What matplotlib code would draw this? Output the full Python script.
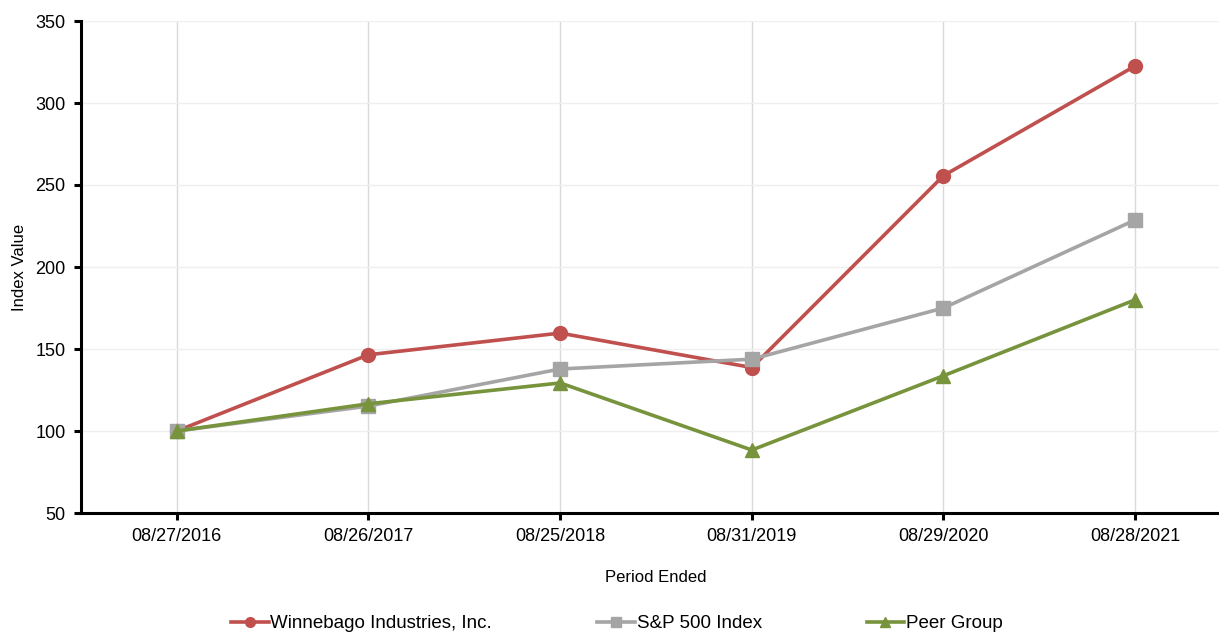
import numpy as np
from matplotlib import pyplot as plt

plt.rcParams['font.family'] = ['Liberation Sans', 'DejaVu Sans']

periods = ["08/27/2016", "08/26/2017", "08/25/2018", "08/31/2019", "08/29/2020", "08/28/2021"]
winnebago = [100, 146.5, 159.7, 138.7, 255.7, 322.6]
sp500 = [100, 115.2, 137.8, 143.8, 175.0, 228.7]
peer = [100, 116.6, 129.3, 88.4, 133.7, 180.0]

fig = plt.figure(figsize=(12.19, 6.32), dpi=100)
ax = fig.add_axes([81 / 1219, 1 - 513 / 632, 1150 / 1219, 492 / 632])

x = np.arange(len(periods))
ax.plot(x, winnebago, color="#c0504d", lw=2.6, marker="o", ms=10, label="Winnebago Industries, Inc.")
ax.plot(x, sp500, color="#a5a5a5", lw=2.6, marker="s", ms=10, label="S&P 500 Index")
ax.plot(x, peer, color="#77933c", lw=2.6, marker="^", ms=10, label="Peer Group")

ax.set_xlim(-0.5, 5.5)
ax.set_ylim(50, 350)
ax.set_xticks(x)
ax.set_xticklabels(periods)
ax.set_yticks(np.arange(50, 351, 50))

for xv in x:
    ax.axvline(xv, color="#d9d9d9", lw=1, zorder=0)
for yv in np.arange(100, 351, 50):
    ax.axhline(yv, color="#efefef", lw=1, zorder=0)

for s in ["top", "right"]:
    ax.spines[s].set_visible(False)
for s in ["left", "bottom"]:
    ax.spines[s].set_linewidth(2.2)
ax.tick_params(axis="both", width=2.2, length=5, labelsize=13, pad=6)

ax.set_ylabel("Index Value", fontsize=12, labelpad=6)
ax.set_xlabel("Period Ended", fontsize=12, labelpad=18)

ax.legend(loc="center", bbox_to_anchor=(0.466, -0.225), ncol=3, frameon=False,
          fontsize=13.5, handlelength=2.0, handletextpad=0.1, columnspacing=5.6, markerscale=0.7,
          borderaxespad=0, borderpad=0)

plt.savefig("out.png", dpi=100)
